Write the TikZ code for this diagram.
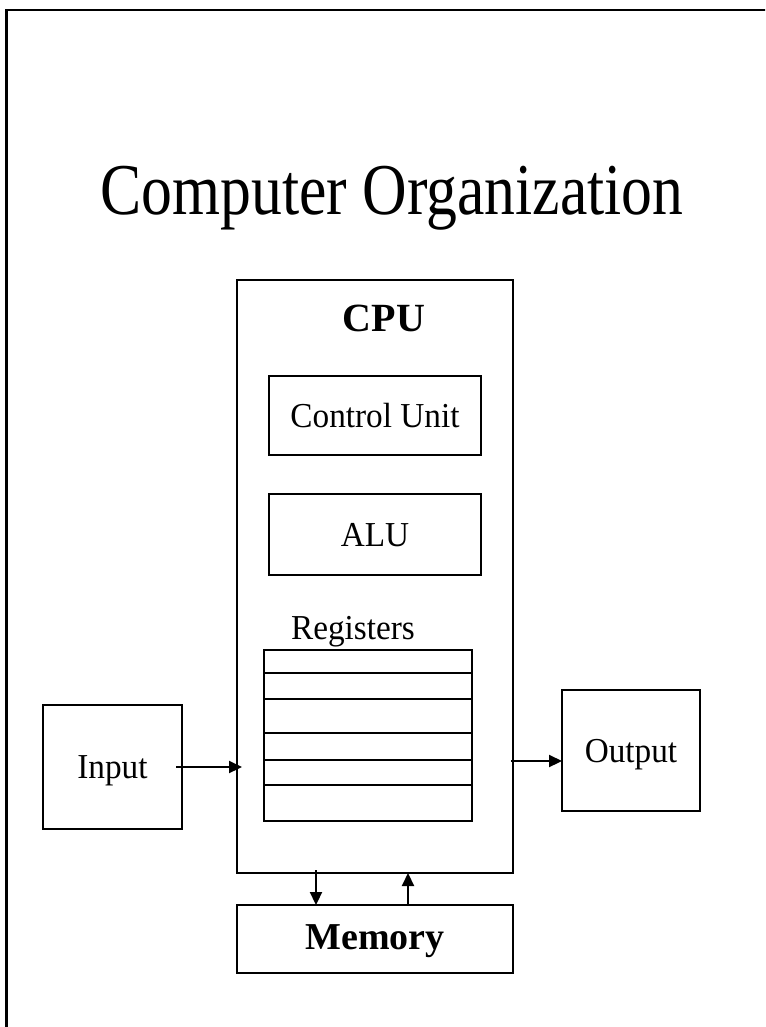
\documentclass[tikz,border=0pt]{standalone}
\usepackage{fontspec}
\setmainfont{Liberation Serif}
\usetikzlibrary{arrows.meta}
\begin{document}
\begin{tikzpicture}[x=1pt,y=-1pt,
  box/.style={draw, line width=2.2pt, inner sep=0pt, outer sep=0pt},
  lbl/.style={font=\fontsize{35}{40}\selectfont, text height=23.5pt, text depth=0pt},
  arr/.style={line width=2.2pt, -{Triangle[length=13pt,width=12pt]}}]
\useasboundingbox (0,0) rectangle (765,1027);
\clip (0,0) rectangle (765,1027);
\fill[white] (0,0) rectangle (765,1027);
% page frame (right and bottom edges fall outside)
\draw[line width=2.8pt] (6.2,1100) -- (6.2,10) -- (800,10);
% title
\node[anchor=base, inner sep=0pt, font=\fontsize{73}{80}\selectfont] (title) at (392,214)
  {\scalebox{0.845}[1]{Computer Organization}};
% CPU
\node[box, minimum width=276pt, minimum height=593pt] (cpu) at (375,576.5) {};
\node[anchor=base, inner sep=0pt, font=\bfseries\fontsize{40}{44}\selectfont] (cpulbl) at (384,331) {CPU};
\node[box, lbl, minimum width=212pt, minimum height=79pt] (cu) at (375,415.5)
  {\scalebox{0.95}[1]{Control Unit}};
\node[box, lbl, minimum width=212pt, minimum height=81pt] (alu) at (375,534.5)
  {\scalebox{0.95}[1]{ALU}};
\node[anchor=base, inner sep=0pt, font=\fontsize{35}{40}\selectfont] (reglbl) at (353,639)
  {\scalebox{0.95}[1]{Registers}};
\node[box, minimum width=208pt, minimum height=171pt] (reg) at (368,735.5) {};
\foreach \yy in {673,699,733,760,785}
  \draw[line width=2.2pt] (reg.west |- 0,\yy) -- (reg.east |- 0,\yy);
% Input / Output / Memory
\node[box, lbl, minimum width=139pt, minimum height=124pt] (input) at (112.5,767)
  {\scalebox{0.95}[1]{Input}};
\node[box, lbl, minimum width=138pt, minimum height=121pt] (output) at (631,750.5)
  {\scalebox{0.95}[1]{Output}};
\node[box, font=\bfseries\fontsize{38}{42}\selectfont, text height=26pt, text depth=6pt,
  minimum width=276pt, minimum height=68pt] (memory) at (375,939) {Memory};
% connectors
\draw[arr] ([xshift=-6pt]input.east) -- ([xshift=5pt]cpu.west |- input.east);
\draw[arr] ([xshift=-2pt]cpu.east |- 0,761) -- (output.west |- 0,761);
\draw[arr] ([yshift=3pt]cpu.south -| 316,0) -- (memory.north -| 316,0);
\draw[arr] (memory.north -| 408,0) -- (cpu.south -| 408,0);
\end{tikzpicture}
\end{document}
